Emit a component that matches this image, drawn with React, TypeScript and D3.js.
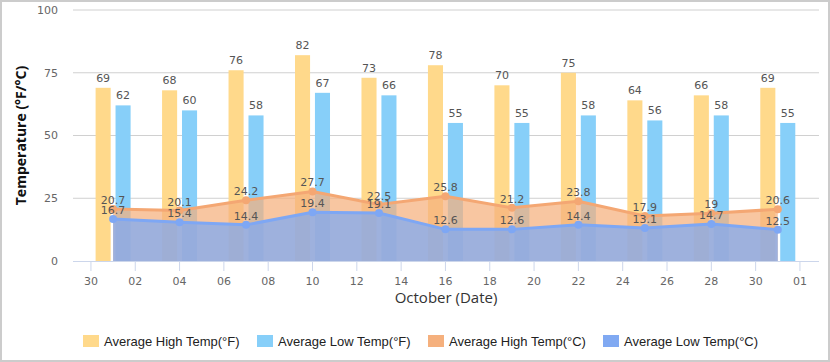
import React from 'react';
import * as d3 from 'd3';

// October days that carry a value
const days = [1, 4, 7, 10, 13, 16, 19, 22, 25, 28, 31];
const highF = [69, 68, 76, 82, 73, 78, 70, 75, 64, 66, 69];
const lowF = [62, 60, 58, 67, 66, 55, 55, 58, 56, 58, 55];
const highC = [20.7, 20.1, 24.2, 27.7, 22.5, 25.8, 21.2, 23.8, 17.9, 19, 20.6];
const lowC = [16.7, 15.4, 14.4, 19.4, 19.1, 12.6, 12.6, 14.4, 13.1, 14.7, 12.5];
const yTicks = [0, 25, 50, 75, 100];

const legendItems = [
  { label: 'Average High Temp(°F)', color: '#FFD98B' },
  { label: 'Average Low Temp(°F)', color: '#87CFF9' },
  { label: 'Average High Temp(°C)', color: '#F5B07D' },
  { label: 'Average Low Temp(°C)', color: '#80A9F2' },
];

const W = 830;
const H = 362;
const DAY = 864e5;

const App: React.FC = () => {
  const margin = { top: 10, right: 11, bottom: 101, left: 73 };
  const innerW = W - margin.left - margin.right;
  const innerH = H - margin.top - margin.bottom;

  const sep30 = Date.UTC(2023, 8, 30);
  const nov1 = Date.UTC(2023, 10, 1);
  const x = d3.scaleUtc()
    .domain([new Date(sep30 - 0.81 * DAY), new Date(nov1 + 0.86 * DAY)])
    .range([0, innerW]);
  const y = d3.scaleLinear().domain([0, 100]).range([innerH, 0]);

  const dates = days.map(d => new Date(Date.UTC(2023, 9, d)));
  const ticks = d3.utcDay.range(new Date(sep30), new Date(nov1 + DAY), 2);
  const fmt = d3.utcFormat('%d');

  const dayPx = x(new Date(sep30 + DAY)) - x(new Date(sep30));
  const barW = dayPx * 0.68;
  const gap = dayPx * 0.11;

  const area = (vals: number[]) =>
    d3.area<number>()
      .x((_, i) => x(dates[i]))
      .y0(y(0))
      .y1(v => y(v))(vals) || '';
  const line = (vals: number[]) =>
    d3.line<number>()
      .x((_, i) => x(dates[i]))
      .y(v => y(v))(vals) || '';

  const labelFont = '"DejaVu Sans", Verdana, sans-serif';

  return (
    <div style={{ position: 'absolute', left: 0, top: 0 }}>
      <svg width={W} height={H} style={{ display: 'block' }}>
        <rect x={1} y={1} width={W - 2} height={H - 2} fill="#fff" stroke="#cccccc" strokeWidth={2} />
        <g transform={`translate(${margin.left},${margin.top})`}>
          {/* grid + y labels */}
          {yTicks.map(t => (
            <g key={t}>
              {t > 0 && (
                <line x1={0} x2={innerW} y1={y(t)} y2={y(t)} stroke="#d0d0d0" strokeWidth={1} />
              )}
              <text x={-15} y={y(t)} dy="0.35em" textAnchor="end" fontSize={11}
                fontFamily={labelFont} fill="#666">{t}</text>
            </g>
          ))}

          {/* bars */}
          {dates.map((d, i) => (
            <g key={'b' + i}>
              <rect x={x(d) - gap - barW} y={y(highF[i])} width={barW}
                height={y(0) - y(highF[i])} fill="#FFD98B" />
              <rect x={x(d) + gap} y={y(lowF[i])} width={barW}
                height={y(0) - y(lowF[i])} fill="#87CFF9" />
            </g>
          ))}

          {/* areas */}
          <path d={area(highC)} fill="#F5B07D" fillOpacity={0.72} />
          <path d={area(lowC)} fill="#80A9F2" fillOpacity={0.75} />
          <path d={line(highC)} fill="none" stroke="#F4A773" strokeWidth={3} />
          <path d={line(lowC)} fill="none" stroke="#7EA7F4" strokeWidth={3} />
          {dates.map((d, i) => (
            <g key={'m' + i}>
              <circle cx={x(d)} cy={y(highC[i])} r={4} fill="#F4A773" />
              <circle cx={x(d)} cy={y(lowC[i])} r={4} fill="#7EA7F4" />
            </g>
          ))}

          {/* x axis */}
          <line x1={0} x2={innerW} y1={innerH + 0.5} y2={innerH + 0.5} stroke="#ccd6eb" />
          {ticks.map(t => (
            <g key={+t} transform={`translate(${x(t)},${innerH})`}>
              <line y1={0} y2={10} stroke="#ccd6eb" />
              <text y={20} dy="0.35em" textAnchor="middle" fontSize={11}
                fontFamily={labelFont} fill="#666">{fmt(t)}</text>
            </g>
          ))}

          {/* data labels */}
          {dates.map((d, i) => (
            <g key={'l' + i} fontSize={11} fontFamily={labelFont} fill="#555" textAnchor="middle">
              <text x={x(d) - gap - barW / 2} y={y(highF[i]) - 6}>{highF[i]}</text>
              <text x={x(d) + gap + barW / 2} y={y(lowF[i]) - 6}>{lowF[i]}</text>
              <text x={x(d)} y={y(highC[i]) - 5}>{highC[i]}</text>
              <text x={x(d)} y={y(lowC[i]) - 5}>{lowC[i]}</text>
            </g>
          ))}

          {/* axis titles */}
          <text x={innerW / 2} y={innerH + 37} dy="0.35em" textAnchor="middle" fontSize={15}
            fontFamily='"Open Sans", sans-serif' fill="#333">October (Date)</text>
          <text transform={`translate(${21 - margin.left},${innerH / 2}) rotate(-90)`}
            dy="0.35em" textAnchor="middle" fontSize={14} fontWeight="bold"
            fontFamily='"Open Sans", sans-serif' fill="#111">Temperature (°F/°C)</text>
        </g>

        {/* legend */}
        <g transform="translate(0,341)">
          {legendItems.map((it, i) => {
            const xs = [83, 257, 428, 603];
            return (
              <g key={it.label} transform={`translate(${xs[i]},0)`}>
                <rect x={0} y={-6} width={16} height={12} fill={it.color} />
                <text x={21} dy="0.35em" fontSize={13}
                  fontFamily='"Liberation Sans", Arial, sans-serif' fill="#222">{it.label}</text>
              </g>
            );
          })}
        </g>
      </svg>
    </div>
  );
};

export default App;
